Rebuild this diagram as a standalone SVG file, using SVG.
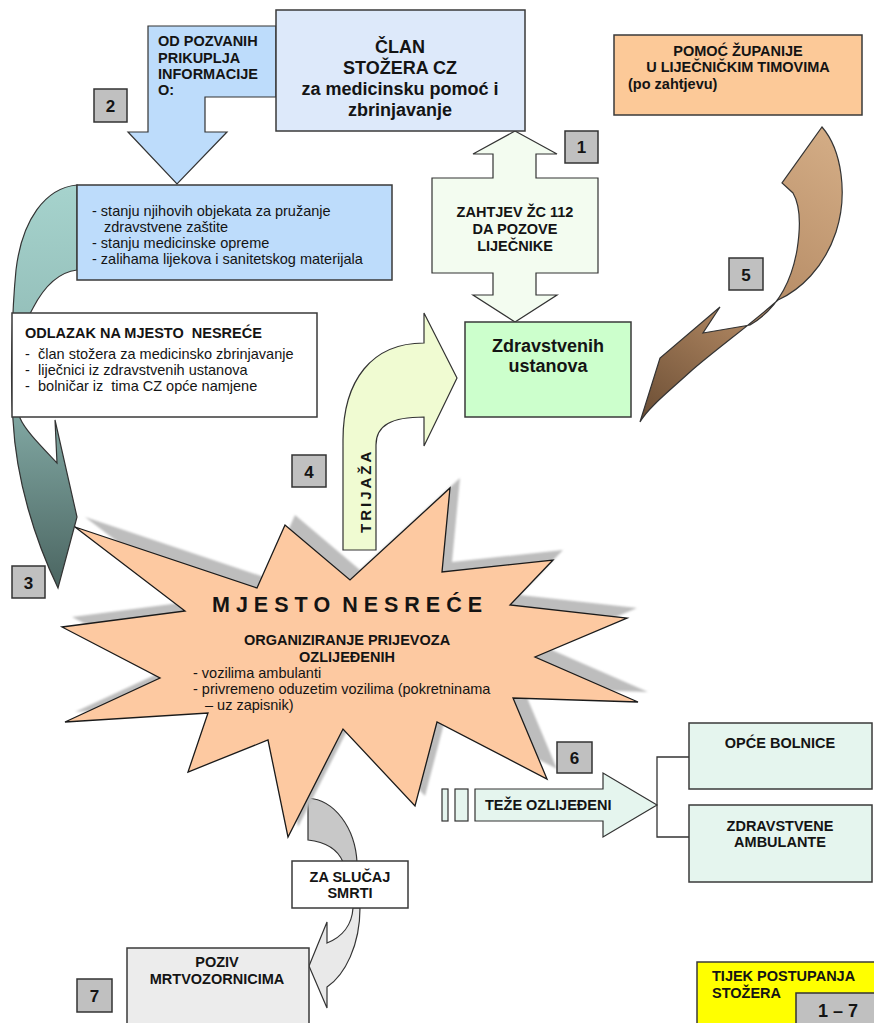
<svg xmlns="http://www.w3.org/2000/svg" width="874" height="1023" viewBox="0 0 874 1023">
<defs>
<style>
text{font-family:"Liberation Sans",Arial,sans-serif;fill:#141414}
.b{font-weight:bold}
.s{font-size:14.5px}
.big{font-size:18px;font-weight:bold}
.box{stroke:#3a3a3a;stroke-width:1.5}
.num{fill:#c0c0c0;stroke:#333;stroke-width:1.5}
.nt{font-size:17px;font-weight:bold;text-anchor:middle}
.arr{stroke:#333;stroke-width:1.2;stroke-linejoin:miter}
.c{text-anchor:middle}
</style>
<linearGradient id="teal" x1="0" y1="185" x2="0" y2="590" gradientUnits="userSpaceOnUse">
<stop offset="0" stop-color="#a6d3cd"/>
<stop offset="0.45" stop-color="#8fb9b4"/>
<stop offset="1" stop-color="#4a6460"/>
</linearGradient>
<linearGradient id="brown" x1="830" y1="140" x2="645" y2="415" gradientUnits="userSpaceOnUse">
<stop offset="0" stop-color="#d2ab84"/>
<stop offset="0.55" stop-color="#b48a64"/>
<stop offset="1" stop-color="#6e5036"/>
</linearGradient>
<filter id="blur" x="-5%" y="-5%" width="110%" height="110%"><feGaussianBlur stdDeviation="1.2"/></filter>
</defs>
<rect width="874" height="1023" fill="#fff"/>

<g id="connectors">
<path id="arrow3" class="arr" fill="url(#teal)" d="M77,185 C45,188 22,220 16,270 C12,310 10,380 13,420 C16,480 35,540 58,588 L77,517 L55,420 L57,463 C40,445 25,430 20,418 C17,380 20,330 33,308 C45,285 60,272 77,270 Z"/>
<g id="arrow2">
<path class="arr" fill="#bddcfb" d="M276,26 L148,26 L148,132 L128,132 L177,184 L227,132 L205,132 L205,97 L276,97 Z"/>
<text class="b s" x="158" y="46">OD POZVANIH</text>
<text class="b s" x="158" y="63">PRIKUPLJA</text>
<text class="b s" x="158" y="79">INFORMACIJE</text>
<text class="b s" x="158" y="95">O:</text>
</g>
<g id="arrow1">
<path class="arr" fill="#f3fcf0" d="M515,131 L557,154 L536,154 L536,178 L598,178 L598,273 L536,273 L536,295 L557,295 L515,322 L473,295 L493,295 L493,273 L432,273 L432,178 L493,178 L493,154 L473,154 Z"/>
<text class="b s c" x="515" y="217">ZAHTJEV ŽC 112</text>
<text class="b s c" x="515" y="234">DA POZOVE</text>
<text class="b s c" x="515" y="251">LIJEČNIKE</text>
</g>
<g id="arrow4">
<path class="arr" fill="#f0fbd2" d="M343,550 L343,440 C343,380 372,343 424,343 L424,313 L457,378 L424,446 L424,417 C392,417 376,425 376,445 L376,550 Z"/>
<text class="b" font-size="15" letter-spacing="3" transform="translate(371,533) rotate(-90)">TRIJAŽA</text>
</g>
<path id="arrow5" class="arr" fill="url(#brown)" d="M822,127 C842,150 848,195 836,232 C824,268 800,290 778,300 C750,325 715,350 690,372 C668,392 648,408 640,422 L660,358 L720,307 L703,333 L750,325 C772,312 790,290 797,250 C801,225 800,205 793,193 L782,183 Z"/>
<g id="arrow6">
<rect class="arr" fill="#e5f5ee" x="442" y="789" width="6" height="32"/>
<rect class="arr" fill="#e5f5ee" x="455" y="789" width="13" height="32"/>
<path class="arr" fill="#e5f5ee" d="M475,789 L603,789 L603,773 L657,805 L603,837 L603,821 L475,821 Z"/>
<text class="b s" x="485" y="810">TEŽE OZLIJEĐENI</text>
<path fill="none" stroke="#333" stroke-width="1.3" d="M690,757 L657,757 L657,837 L690,837"/>
</g>
<g id="arrow7">
<path class="arr" fill="#c8c8c8" d="M308,798 C335,800 355,828 357,862 L343,862 C338,850 326,842 308,840 Z"/>
<path class="arr" fill="#e9e9e9" d="M353,908 C352,925 342,937 327,943 L327,922 L309,966 L327,1008 L327,987 C345,975 360,945 360,908 Z"/>
</g>
</g>

<g id="clan">
<rect class="box" fill="#dde9fa" x="276" y="10" width="249" height="121"/>
<text class="big c" x="400" y="53">ČLAN</text>
<text class="big c" x="400" y="74">STOŽERA CZ</text>
<text class="big c" x="400" y="95">za medicinsku pomoć i</text>
<text class="big c" x="400" y="116">zbrinjavanje</text>
</g>

<g id="info">
<rect class="box" fill="#bddcfb" x="77" y="185" width="315" height="95"/>
<text class="s" x="92" y="216">- stanju njihovih objekata za pružanje</text>
<text class="s" x="104" y="232">zdravstvene zaštite</text>
<text class="s" x="92" y="248">- stanju medicinske opreme</text>
<text class="s" x="92" y="264">- zalihama lijekova i sanitetskog materijala</text>
</g>

<g id="odlazak">
<rect class="box" fill="#fff" x="12" y="313" width="305" height="104"/>
<text class="b s" x="25" y="338" xml:space="preserve">ODLAZAK NA MJESTO  NESREĆE</text>
<text class="s" x="25" y="359">-</text><text class="s" x="38" y="359">član stožera za medicinsko zbrinjavanje</text>
<text class="s" x="25" y="375">-</text><text class="s" x="38" y="375">liječnici iz zdravstvenih ustanova</text>
<text class="s" x="25" y="391">-</text><text class="s" x="38" y="391" xml:space="preserve">bolničar iz  tima CZ opće namjene</text>
</g>

<g id="pomoc">
<rect class="box" fill="#fcc998" x="614" y="35" width="248" height="80"/>
<text class="b s c" x="738" y="56">POMOĆ ŽUPANIJE</text>
<text class="b s c" x="738" y="72">U LIJEČNIČKIM TIMOVIMA</text>
<text class="b s" x="628" y="89">(po zahtjevu)</text>
</g>

<g id="zdravstvenih">
<rect class="box" fill="#ccffcc" x="465" y="322" width="166" height="95"/>
<text class="big c" x="548" y="352">Zdravstvenih</text>
<text class="big c" x="548" y="372">ustanova</text>
</g>

<g id="mjesto">
<polygon fill="#bdbdbd" filter="url(#blur)" transform="translate(10,-10)" points="75,527 257,588 285,525 350,580 450,488 442,572 553,560 510,605 627,618 535,657 638,702 513,698 547,779 437,722 415,806 343,729 288,837 268,740 188,772 208,713 65,722 160,678 62,627 185,611"/>
<polygon fill="#fdc9a1" stroke="#1a1a1a" stroke-width="1.3" points="75,527 257,588 285,525 350,580 450,488 442,572 553,560 510,605 627,618 535,657 638,702 513,698 547,779 437,722 415,806 343,729 288,837 268,740 188,772 208,713 65,722 160,678 62,627 185,611"/>
<text class="b c" font-size="21.5" x="347" y="612" xml:space="preserve">M J E S T O  N E S R E Ć E</text>
<text class="b s c" x="347" y="645">ORGANIZIRANJE PRIJEVOZA</text>
<text class="b s c" x="347" y="662">OZLIJEĐENIH</text>
<text class="s" x="193" y="678">- vozilima ambulanti</text>
<text class="s" x="193" y="694">- privremeno oduzetim vozilima (pokretninama</text>
<text class="s" x="205" y="710">– uz zapisnik)</text>
</g>

<g id="opce">
<rect class="box" fill="#e5f5ee" x="689" y="723" width="183" height="66"/>
<text class="b s c" x="780" y="748">OPĆE BOLNICE</text>
</g>
<g id="ambulante">
<rect class="box" fill="#e5f5ee" x="689" y="805" width="183" height="77"/>
<text class="b s c" x="780" y="831">ZDRAVSTVENE</text>
<text class="b s c" x="780" y="847">AMBULANTE</text>
</g>

<g id="smrti">
<rect class="box" fill="#fff" x="292" y="861" width="116" height="47"/>
<text class="b s c" x="350" y="882">ZA SLUČAJ</text>
<text class="b s c" x="350" y="898">SMRTI</text>
</g>

<g id="poziv">
<rect class="box" fill="#ececec" x="127" y="948" width="182" height="80"/>
<text class="b s c" x="217" y="967">POZIV</text>
<text class="b s c" x="217" y="984">MRTVOZORNICIMA</text>
</g>

<g id="tijek">
<rect class="box" fill="#ffff00" x="697" y="962" width="180" height="66"/>
<text class="b s" x="712" y="981">TIJEK POSTUPANJA</text>
<text class="b s" x="712" y="998">STOŽERA</text>
<rect class="num" x="796" y="993" width="82" height="35"/>
<text class="b c" font-size="18" x="838" y="1017">1 – 7</text>
</g>

<g id="n1"><rect class="num" x="565" y="131" width="33" height="32"/><text class="nt" x="581.5" y="153">1</text></g>
<g id="n2"><rect class="num" x="94" y="89" width="33" height="33"/><text class="nt" x="110.5" y="112">2</text></g>
<g id="n3"><rect class="num" x="12" y="566" width="33" height="32"/><text class="nt" x="28.5" y="589">3</text></g>
<g id="n4"><rect class="num" x="292" y="455" width="34" height="32"/><text class="nt" x="309" y="478">4</text></g>
<g id="n5"><rect class="num" x="729" y="258" width="34" height="32"/><text class="nt" x="746" y="281">5</text></g>
<g id="n6"><rect class="num" x="557" y="742" width="35" height="31"/><text class="nt" x="574.5" y="764">6</text></g>
<g id="n7"><rect class="num" x="77" y="979" width="35" height="33"/><text class="nt" x="94.5" y="1002">7</text></g>
</svg>
